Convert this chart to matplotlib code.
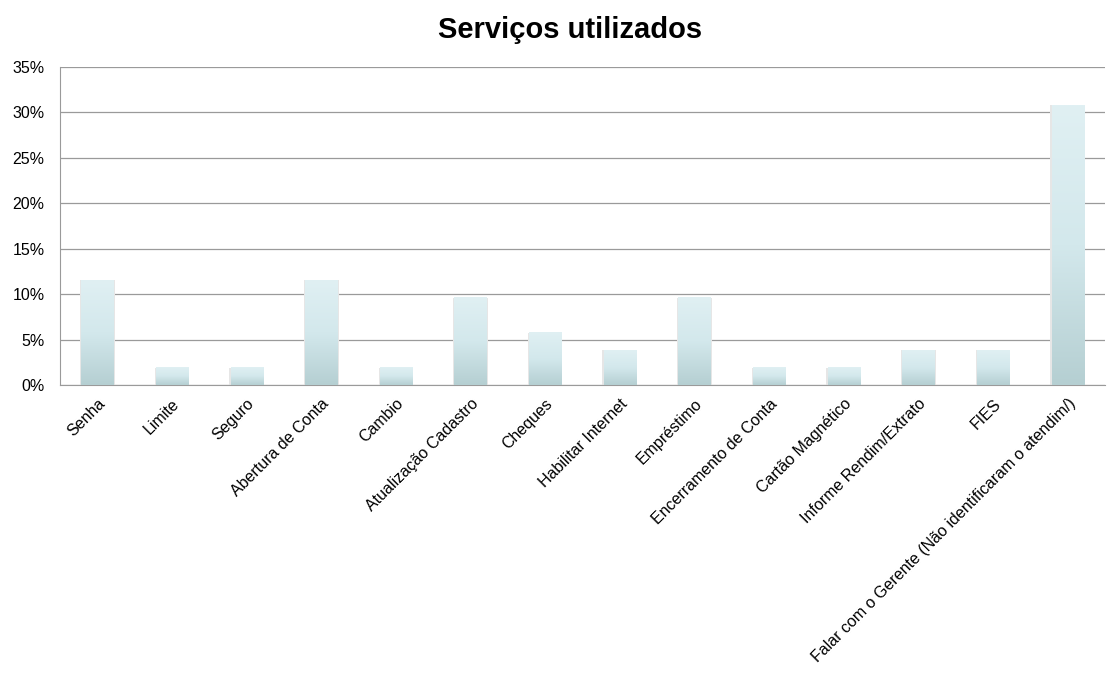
import matplotlib
matplotlib.use("Agg")
import matplotlib.pyplot as plt
import numpy as np
from matplotlib.colors import LinearSegmentedColormap
from matplotlib.ticker import FuncFormatter

plt.rcParams['font.family'] = ['Liberation Sans', 'DejaVu Sans']

servicos = ["Senha", "Limite", "Seguro", "Abertura de Conta", "Cambio",
            "Atualização Cadastro", "Cheques", "Habilitar Internet", "Empréstimo",
            "Encerramento de Conta", "Cartão Magnético", "Informe Rendim/Extrato",
            "FIES", "Falar com o Gerente (Não identificaram o atendim/)"]
percentual = [11.54, 1.92, 1.92, 11.54, 1.92, 9.62, 5.77, 3.85, 9.62,
              1.92, 1.92, 3.85, 3.85, 30.77]

fig = plt.figure(figsize=(11.1, 6.73), dpi=100)
ax = fig.add_axes([0.054, 0.428, 0.9415, 0.4726])

x = np.arange(len(servicos))
largura = 0.43
bars = ax.bar(x, percentual, width=largura, color='none', edgecolor='none', zorder=3)

cmap = LinearSegmentedColormap.from_list("grad", ["#b5cfd2", "#d3e8ec", "#e0f0f3"])
grad = np.linspace(0, 1, 256).reshape(-1, 1)
for b in bars:
    x0, y0 = b.get_x(), b.get_y()
    w, h = b.get_width(), b.get_height()
    # sombra leve
    ax.bar(x0 + w / 2, h, width=w * 1.08, color='#e6e6e6', zorder=2)
    ax.imshow(grad, extent=(x0, x0 + w, y0, y0 + h), origin='lower',
              cmap=cmap, aspect='auto', zorder=3)

ax.set_xlim(-0.5, len(servicos) - 0.5)
ax.set_ylim(0, 35)
ax.set_yticks(np.arange(0, 36, 5))
ax.yaxis.set_major_formatter(FuncFormatter(lambda v, p: f"{int(v)}%"))
ax.yaxis.grid(True, color='#9a9a9a', linewidth=0.9, zorder=1)
ax.set_axisbelow(True)

ax.set_xticks(x)
ax.set_xticklabels(servicos, rotation=45, ha='right', rotation_mode='anchor', fontsize=11.5)
ax.tick_params(axis='x', length=0, pad=8)
ax.tick_params(axis='y', length=0, pad=11, labelsize=11.5)

for s in ['top', 'right']:
    ax.spines[s].set_visible(False)
for s in ['left', 'bottom']:
    ax.spines[s].set_color('#9a9a9a')

fig.text(0.514, 0.955, "Serviços utilizados", fontsize=21, fontweight='bold',
         ha='center', va='center')

fig.savefig("out.png", dpi=100)
